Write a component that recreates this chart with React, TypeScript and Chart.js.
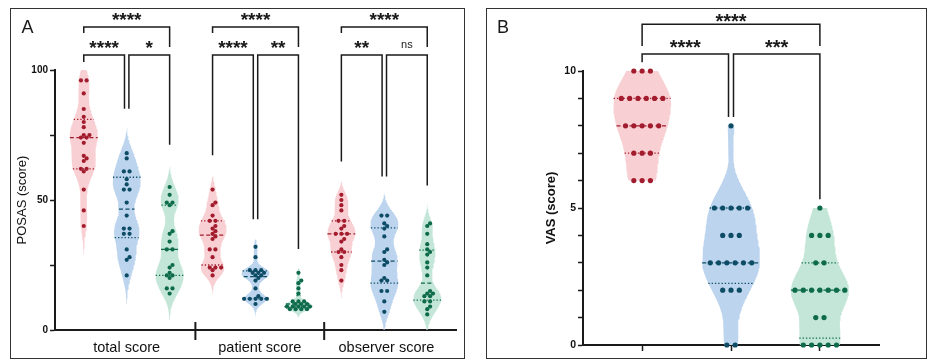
import React, { useEffect, useRef } from 'react';
import { Chart, registerables } from 'chart.js';

Chart.register(...registerables);

const FONT = '"Liberation Sans", Arial, Helvetica, sans-serif';
Chart.defaults.font.family = FONT;

// ---------------- Panel A : POSAS ----------------
const A_CATEGORIES = ['total score', 'patient score', 'observer score'];
const A_LABEL_POS = [2, 5.1, 8.05];
const A_SEPARATORS = [3.6, 6.6];
const A_Y_LABELS = [0, 50, 100];

const TOTAL_RED = [96, 96, 91, 85, 82, 80, 78, 75, 75, 74, 74, 72, 67, 66, 65, 62, 62, 61, 54, 46, 40];
const TOTAL_BLUE = [68, 66, 61, 61, 58, 56, 54, 54, 49, 44, 39, 39, 37, 37, 31, 28, 27, 21];
const TOTAL_GREEN = [55, 52, 49, 49, 48, 38, 37, 34, 31, 31, 25, 24, 22, 21, 21, 20, 16, 16, 14];
const PATIENT_RED = [54, 49, 48, 44, 42, 42, 40, 39, 38, 37, 36, 35, 31, 31, 28, 24, 24, 24, 23, 21];
const PATIENT_BLUE = [32, 28, 23, 23, 23, 22, 22, 22, 21, 21, 20, 19, 16, 13, 12, 12, 12, 12, 12, 10];
const PATIENT_GREEN = [22, 19, 18, 16, 14, 11, 11, 11, 10, 10, 10, 9, 9, 9, 9, 9, 8, 8, 8, 8];
const OBSERVER_RED = [52, 50, 48, 46, 42, 42, 40, 39, 37, 37, 37, 35, 34, 31, 30, 30, 28, 25, 23, 19];
const OBSERVER_BLUE = [44, 44, 41, 40, 39, 36, 31, 30, 27, 26, 25, 20, 19, 19, 15, 15, 11, 7];
const OBSERVER_GREEN = [41, 40, 37, 33, 31, 30, 29, 26, 24, 21, 15, 14, 14, 13, 13, 11, 11, 9, 8, 6];

// [outer (1 vs 3), left (1 vs 2), right (2 vs 3)]
const A_SIGNIFICANCE = [
  ['****', '****', '*'],
  ['****', '****', '**'],
  ['****', '**', 'ns'],
];

// ---------------- Panel B : VAS ----------------
const B_RED = [10, 10, 10, 9, 9, 9, 9, 9, 9, 8, 8, 8, 8, 8, 7, 7, 7, 6, 6, 6];
const B_BLUE = [8, 5, 5, 5, 5, 5, 4, 4, 4, 3, 3, 3, 3, 3, 3, 2, 2, 2, 0, 0];
const B_GREEN = [5, 4, 4, 4, 3, 3, 2, 2, 2, 2, 2, 2, 2, 1, 1, 0, 0, 0, 0, 0];
const B_SIGNIFICANCE = ['****', '****', '***'];
const B_Y_LABELS = [0, 5, 10];

// ---------------- Styles ----------------
const FILLS = ['#f8d0d3', '#bcd4ee', '#c3e6d8'];
const DOTS = ['#a31c2e', '#0e4c66', '#0d6a4a'];
const INK = '#1a1a1a';

type Pt = { x: number; y: number };

function silverman(values: number[]) {
  const n = values.length;
  const mean = values.reduce((s, v) => s + v, 0) / n;
  const sd = Math.sqrt(values.reduce((s, v) => s + (v - mean) ** 2, 0) / (n - 1));
  return 1.06 * sd * Math.pow(n, -0.2);
}

function quantile(values: number[], p: number) {
  const s = [...values].sort((a, b) => a - b);
  const n = s.length;
  const pos = (n + 1) * p;
  if (pos <= 1) return s[0];
  if (pos >= n) return s[n - 1];
  const lo = Math.floor(pos);
  return s[lo - 1] + (pos - lo) * (s[lo] - s[lo - 1]);
}

function makeViolin(values: number[], center: number, cfg: any) {
  const h = cfg.bwFactor * silverman(values);
  const min = Math.min(...values);
  const max = Math.max(...values);
  const lo = cfg.truncate ? min : min - cfg.ext * h;
  const hi = cfg.truncate ? max : max + cfg.ext * h;
  const dens = (y: number) => values.reduce((s, v) => s + Math.exp(-0.5 * ((y - v) / h) ** 2), 0);
  const N = 160;
  const ys = Array.from({ length: N + 1 }, (_, i) => lo + ((hi - lo) * i) / N);
  const ds = ys.map(dens);
  const dmax = Math.max(...ds);
  const right: Pt[] = ys.map((y, i) => ({ x: center + (cfg.halfW * ds[i]) / dmax, y }));
  const left: Pt[] = [];
  for (let i = N; i >= 0; i--) left.push({ x: center - (cfg.halfW * ds[i]) / dmax, y: ys[i] });
  return {
    polygon: [...right, ...left],
    half: (y: number) => (cfg.halfW * dens(y)) / dmax,
    top: Math.min(hi, cfg.yMax),
  };
}

function swarm(values: number[], center: number, cfg: any, xPx: number, yPx: number): Pt[] {
  const sorted = [...values].sort((a, b) => a - b);
  const placed: { ox: number; y: number }[] = [];
  let i = 0;
  while (i < sorted.length) {
    let j = i;
    while (j + 1 < sorted.length && Math.abs(sorted[j + 1] - sorted[i]) < 1e-9) j++;
    const ys = sorted.slice(i, j + 1);
    const k = ys.length;
    let chosen = 0;
    for (let t = 0; t < 40; t++) {
      const delta = t === 0 ? 0 : (t % 2 === 1 ? 1 : -1) * Math.ceil(t / 2) * (cfg.dotStep / 2);
      const offs = ys.map((_, m) => (m - (k - 1) / 2) * cfg.dotStep + delta);
      const ok = offs.every((o, m) =>
        placed.every((p) => Math.hypot(p.ox - o, (p.y - ys[m]) * yPx) >= cfg.dotMinDist)
      );
      if (ok) {
        chosen = delta;
        break;
      }
    }
    ys.forEach((y, m) => placed.push({ ox: (m - (k - 1) / 2) * cfg.dotStep + chosen, y }));
    i = j + 1;
  }
  return placed.map((p) => ({ x: center + p.ox / xPx, y: p.y }));
}

const sigPlugin = {
  id: 'sigLabels',
  afterDatasetsDraw(chart: any, _args: any, opts: any) {
    const { ctx } = chart;
    const x = chart.scales.x;
    const y = chart.scales.y;
    ctx.save();
    ctx.fillStyle = INK;
    ctx.textAlign = 'center';
    ctx.textBaseline = 'alphabetic';
    for (const lab of opts.labels || []) {
      const px = x.getPixelForValue(lab.x);
      const cy = y.getPixelForValue(lab.y) - lab.lift;
      const star = /^\*+$/.test(lab.text);
      const fs = star ? opts.starSize : opts.textSize;
      ctx.font = `${star ? 'bold ' : ''}${fs}px ${FONT}`;
      ctx.fillText(lab.text, px, cy + (star ? 0.47 : 0.26) * fs);
    }
    if (opts.letter) {
      ctx.textAlign = 'left';
      ctx.font = `${opts.letter.size}px ${FONT}`;
      ctx.fillText(opts.letter.text, opts.letter.x, opts.letter.y);
    }
    ctx.restore();
  },
};

function buildPanel(series: { values: number[]; center: number; color: number }[], triples: any[], cfg: any) {
  const xPx = cfg.areaW / (cfg.xMax - cfg.xMin);
  const yPx = cfg.areaH / (cfg.yMax - cfg.yMin);
  const datasets: any[] = [];
  const violins = series.map((s) => makeViolin(s.values, s.center, cfg));

  series.forEach((s, i) => {
    const v = violins[i];
    datasets.push({
      data: v.polygon,
      showLine: true,
      fill: 'shape',
      backgroundColor: FILLS[s.color],
      borderColor: 'rgba(0,0,0,0)',
      borderWidth: 0,
      pointRadius: 0,
      tension: 0,
      order: 3,
    });
    const qs = [quantile(s.values, 0.25), quantile(s.values, 0.5), quantile(s.values, 0.75)];
    qs.forEach((q, qi) => {
      const w = v.half(q);
      datasets.push({
        data: [
          { x: s.center - w, y: q },
          { x: s.center + w, y: q },
        ],
        showLine: true,
        fill: false,
        borderColor: DOTS[s.color],
        borderWidth: 1.3,
        borderDash: qi === 1 ? [4, 2.5] : [1.3, 2],
        pointRadius: 0,
        order: 2,
      });
    });
    datasets.push({
      data: swarm(s.values, s.center, cfg, xPx, yPx),
      showLine: false,
      pointRadius: cfg.dotR,
      pointBorderWidth: 0,
      pointBackgroundColor: DOTS[s.color],
      pointBorderColor: DOTS[s.color],
      clip: false,
      order: 1,
    });
  });

  const labels: any[] = [];
  const minLeg = cfg.minLegPx / yPx;
  const mid = cfg.midOffPx / xPx;
  const bracket = (pts: Pt[]) =>
    datasets.push({
      data: pts,
      showLine: true,
      fill: false,
      borderColor: INK,
      borderWidth: 1.5,
      pointRadius: 0,
      clip: false,
      order: 0,
    });
  triples.forEach((t) => {
    const [i0, i1, i2] = t.idx;
    const x0 = series[i0].center;
    const x1 = series[i1].center;
    const x2 = series[i2].center;
    const end = (i: number) => Math.min(violins[i].top + cfg.gap, cfg.t2 - minLeg);
    bracket([
      { x: x0, y: end(i0) },
      { x: x0, y: cfg.t2 },
      { x: x1 - mid, y: cfg.t2 },
      { x: x1 - mid, y: end(i1) },
    ]);
    bracket([
      { x: x1 + mid, y: end(i1) },
      { x: x1 + mid, y: cfg.t2 },
      { x: x2, y: cfg.t2 },
      { x: x2, y: end(i2) },
    ]);
    bracket([
      { x: x0, y: cfg.outerEnds[0] },
      { x: x0, y: cfg.t1 },
      { x: x2, y: cfg.t1 },
      { x: x2, y: cfg.outerEnds[1] },
    ]);
    labels.push({ x: (x0 + x2) / 2, y: cfg.t1, lift: cfg.lifts[0], text: t.labels[0] });
    labels.push({ x: (x0 + x1 - mid) / 2, y: cfg.t2, lift: cfg.lifts[1], text: t.labels[1] });
    labels.push({ x: (x1 + mid + x2) / 2, y: cfg.t2, lift: cfg.lifts[1], text: t.labels[2] });
  });

  (cfg.separators || []).forEach((sx: number) => {
    datasets.push({
      data: [
        { x: sx, y: cfg.sepUpPx / yPx },
        { x: sx, y: -cfg.sepDownPx / yPx },
      ],
      showLine: true,
      fill: false,
      borderColor: INK,
      borderWidth: 2,
      pointRadius: 0,
      clip: false,
      order: 0,
    });
  });

  return { datasets, labels };
}

function buildA() {
  const groups = [
    [TOTAL_RED, TOTAL_BLUE, TOTAL_GREEN],
    [PATIENT_RED, PATIENT_BLUE, PATIENT_GREEN],
    [OBSERVER_RED, OBSERVER_BLUE, OBSERVER_GREEN],
  ];
  const series: any[] = [];
  groups.forEach((g, gi) => g.forEach((values, k) => series.push({ values, center: gi * 3 + k + 1, color: k })));
  const triples = A_SIGNIFICANCE.map((labels, gi) => ({ idx: [gi * 3, gi * 3 + 1, gi * 3 + 2], labels }));
  const yPx = 260 / 100;
  const cfg = {
    xMin: 0.33, xMax: 9.67, yMin: 0, yMax: 100, areaW: 401, areaH: 260,
    halfW: 0.326, bwFactor: 0.5, ext: 2.6, truncate: false,
    dotR: 2.1, dotStep: 5.7, dotMinDist: 3.6,
    t1: 116.5, t2: 105.8, gap: 6, minLegPx: 7, midOffPx: 2.2,
    outerEnds: [116.5 - 6 / yPx, 105.8 + 8 / yPx],
    lifts: [9.7, 9.5],
    separators: A_SEPARATORS, sepUpPx: 8, sepDownPx: 10,
  };
  const { datasets, labels } = buildPanel(series, triples, cfg);
  return {
    type: 'line',
    data: { datasets },
    plugins: [sigPlugin],
    options: {
      responsive: false,
      animation: false,
      devicePixelRatio: 1,
      events: [],
      layout: { padding: { left: 0, top: 61, right: 8, bottom: 0 } },
      plugins: {
        legend: { display: false },
        tooltip: { enabled: false },
        sigLabels: { labels, starSize: 19, textSize: 11, letter: { text: 'A', x: 10.5, y: 24, size: 18 } },
      },
      scales: {
        x: {
          type: 'linear',
          min: cfg.xMin,
          max: cfg.xMax,
          afterFit: (s: any) => { s.height = 28; },
          afterBuildTicks: (s: any) => { s.ticks = A_LABEL_POS.map((v) => ({ value: v })); },
          grid: { display: false },
          border: { display: true, color: INK, width: 2 },
          ticks: {
            padding: 1,
            maxRotation: 0,
            autoSkip: false,
            color: '#111',
            font: { size: 14.5, family: FONT },
            callback: (_v: any, i: number) => A_CATEGORIES[i],
          },
        },
        y: {
          type: 'linear',
          min: 0,
          max: 100,
          afterFit: (s: any) => { s.width = 44; },
          grid: { drawOnChartArea: false, drawTicks: true, tickLength: 5, tickWidth: 1.5, tickColor: INK },
          border: { display: true, color: INK, width: 2 },
          title: {
            display: true,
            text: 'POSAS (score)',
            color: '#111',
            font: { size: 13, family: FONT },
            padding: { top: 4, bottom: 0 },
          },
          ticks: {
            stepSize: 25,
            padding: 2,
            autoSkip: false,
            color: '#111',
            font: { size: 10, weight: 'bold', family: FONT },
            callback: (v: any) => (A_Y_LABELS.includes(v) ? String(v) : ''),
          },
        },
      },
    },
  };
}

function buildB() {
  const series = [B_RED, B_BLUE, B_GREEN].map((values, k) => ({ values, center: k + 1, color: k }));
  const triples = [{ idx: [0, 1, 2], labels: B_SIGNIFICANCE }];
  const yPx = 274 / 10;
  const cfg = {
    xMin: 0.335, xMax: 3.665, yMin: 0, yMax: 10, areaW: 296, areaH: 274,
    halfW: 0.326, bwFactor: 0.75, ext: 0, truncate: true,
    dotR: 2.6, dotStep: 8.3, dotMinDist: 5,
    t1: 11.71, t2: 10.62, gap: 0.32, minLegPx: 8, midOffPx: 2.5,
    outerEnds: [10.62 + 8 / yPx, 10.62 + 8 / yPx],
    lifts: [5.3, 9.5],
    separators: [],
  };
  const { datasets, labels } = buildPanel(series, triples, cfg);
  return {
    type: 'line',
    data: { datasets },
    plugins: [sigPlugin],
    options: {
      responsive: false,
      animation: false,
      devicePixelRatio: 1,
      events: [],
      layout: { padding: { left: 0, top: 62, right: 46, bottom: 0 } },
      plugins: {
        legend: { display: false },
        tooltip: { enabled: false },
        sigLabels: { labels, starSize: 20, textSize: 11, letter: { text: 'B', x: 9, y: 24, size: 18 } },
      },
      scales: {
        x: {
          type: 'linear',
          min: cfg.xMin,
          max: cfg.xMax,
          afterFit: (s: any) => { s.height = 13; },
          afterBuildTicks: (s: any) => { s.ticks = [1, 2, 3].map((v) => ({ value: v })); },
          grid: { drawOnChartArea: false, drawTicks: true, tickLength: 6, tickWidth: 1.5, tickColor: INK },
          border: { display: true, color: INK, width: 2 },
          ticks: { padding: 0, autoSkip: false, callback: () => '' },
        },
        y: {
          type: 'linear',
          min: 0,
          max: 10,
          afterFit: (s: any) => { s.width = 95; },
          grid: { drawOnChartArea: false, drawTicks: true, tickLength: 5, tickWidth: 1.5, tickColor: INK },
          border: { display: true, color: INK, width: 2 },
          title: {
            display: true,
            text: 'VAS (score)',
            color: '#111',
            font: { size: 13, weight: 'bold', family: FONT },
            padding: { top: 56, bottom: 0 },
          },
          ticks: {
            stepSize: 1,
            padding: 2,
            autoSkip: false,
            color: '#111',
            font: { size: 10.5, weight: 'bold', family: FONT },
            callback: (v: any) => (B_Y_LABELS.includes(v) ? String(v) : ''),
          },
        },
      },
    },
  };
}

function ChartCanvas({ left, top, width, height, build }: any) {
  const ref = useRef<HTMLCanvasElement | null>(null);
  useEffect(() => {
    if (!ref.current) return;
    const chart = new Chart(ref.current, build());
    return () => chart.destroy();
  }, []);
  return (
    <canvas
      ref={ref}
      width={width}
      height={height}
      style={{ position: 'absolute', left, top, width, height }}
    />
  );
}

export default function App() {
  return (
    <div style={{ position: 'fixed', left: 0, top: 0, width: 928, height: 360, background: '#fff', overflow: 'hidden' }}>
      <div style={{ position: 'absolute', left: 10, top: 8, width: 455, height: 351, border: '1.5px solid #333', boxSizing: 'border-box' }} />
      <div style={{ position: 'absolute', left: 486, top: 8, width: 441, height: 351, border: '1.5px solid #333', boxSizing: 'border-box' }} />
      <ChartCanvas left={11} top={9} width={453} height={349} build={buildA} />
      <ChartCanvas left={488} top={9} width={437} height={349} build={buildB} />
    </div>
  );
}
